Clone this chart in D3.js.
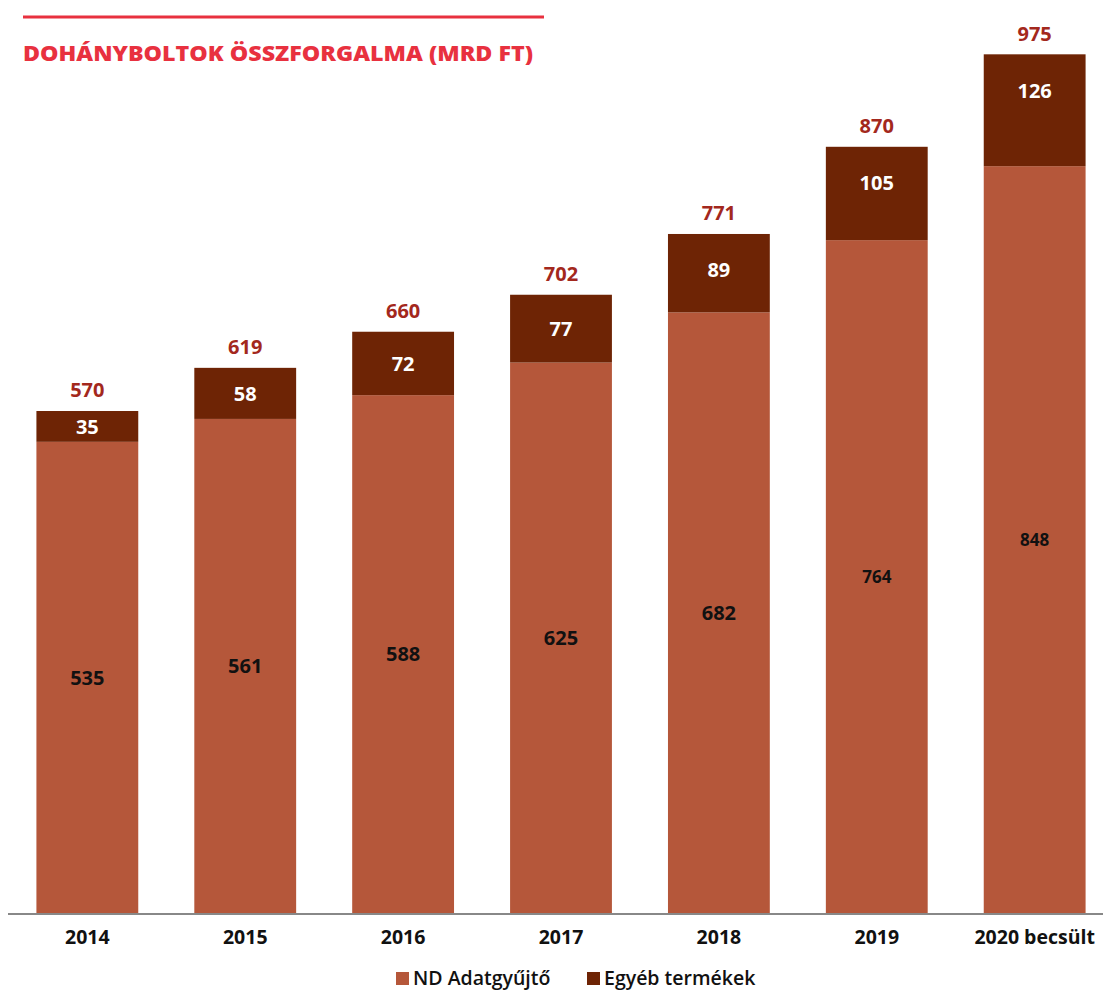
<!DOCTYPE html>
<html><head><meta charset="utf-8">
<script src="https://cdn.jsdelivr.net/npm/d3@7/dist/d3.min.js"></script>
<style>body{margin:0;background:#fff;}svg{display:block;font-family:"Open Sans", Lato, sans-serif;}</style>
</head><body>
<svg id="c" width="1103" height="992"></svg>
<script>
const categories = ["2014","2015","2016","2017","2018","2019","2020 becsült"];
const ndValues = [535,561,588,625,682,764,848];
const otherValues = [35,58,72,77,89,105,126];
const totals = [570,619,660,702,771,870,975];
const seriesNames = ["ND Adatgyűjtő","Egyéb termékek"];
const colors = ["#b5573a","#6e2405"];

const svg = d3.select("#c");
const baseY = 913;
const x = d3.scaleBand().domain(categories).range([8, 1114]).paddingInner(0.355).paddingOuter(0.18);
const y = d3.scaleLinear().domain([0, 570]).range([baseY, 411]);

// title
svg.append("rect").attr("x",23).attr("y",15.5).attr("width",521).attr("height",3).attr("fill","#e8313f");
svg.append("text").attr("x",23).attr("y",61).attr("fill","#e8313f").attr("font-size",21).attr("font-weight",800)
  .attr("textLength",510).attr("lengthAdjust","spacingAndGlyphs").text("DOHÁNYBOLTOK ÖSSZFORGALMA (MRD FT)");

const g = svg.append("g");
categories.forEach((c,i)=>{
  const x0 = x(c), w = x.bandwidth();
  g.append("rect").attr("x",x0).attr("width",w).attr("y",y(ndValues[i])).attr("height",baseY - y(ndValues[i])).attr("fill",colors[0]);
  g.append("rect").attr("x",x0).attr("width",w).attr("y",y(totals[i])).attr("height",y(ndValues[i]) - y(totals[i])).attr("fill",colors[1]);
  const cx = x0 + w/2;
  g.append("text").attr("x",cx).attr("y",(y(ndValues[i])+baseY)/2).attr("dy","0.36em").attr("text-anchor","middle")
    .attr("font-size", ndValues[i] > 700 ? 17 : 20).attr("font-weight",700).attr("fill","#111").text(ndValues[i]);
  g.append("text").attr("x",cx).attr("y",Math.min((y(ndValues[i])+y(totals[i]))/2, y(totals[i]) + 36)).attr("dy","0.36em").attr("text-anchor","middle")
    .attr("font-size",20).attr("font-weight",700).attr("fill","#fff").text(otherValues[i]);
  g.append("text").attr("x",cx).attr("y",y(totals[i]) - 21).attr("dy","0.36em").attr("text-anchor","middle")
    .attr("font-size",20).attr("font-weight",700).attr("fill","#a3281d").text(totals[i]);
});

// axis
const ax = svg.append("g").attr("transform",`translate(0,${baseY})`).call(d3.axisBottom(x).tickSize(0).tickPadding(17));
ax.select(".domain").remove();
svg.append("line").attr("x1",8).attr("x2",1103).attr("y1",baseY+1).attr("y2",baseY+1).attr("stroke","#888").attr("stroke-width",2);
ax.selectAll("text").attr("font-size",19.5).attr("font-weight",700).attr("fill","#111").attr("font-family","'Open Sans', sans-serif");

// legend
const leg = svg.append("g");
const legItems = [{x:396,name:seriesNames[0],c:colors[0]},{x:587,name:seriesNames[1],c:colors[1]}];
legItems.forEach(d=>{
  leg.append("rect").attr("x",d.x).attr("y",972).attr("width",13).attr("height",13).attr("fill",d.c);
  leg.append("text").attr("x",d.x+17).attr("y",985).attr("font-size",19.5).attr("font-weight",600).attr("fill","#111").text(d.name);
});
</script>
</body></html>
